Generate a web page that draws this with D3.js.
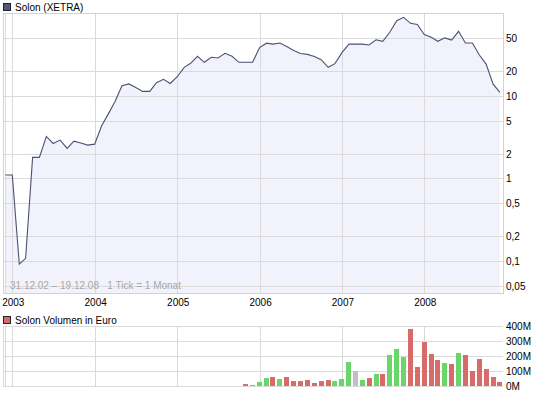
<!DOCTYPE html>
<html>
<head>
<meta charset="utf-8">
<script src="https://cdn.jsdelivr.net/npm/d3@7"></script>
<style>
  body { margin: 0; background: #fff; }
  text { font-family: "Liberation Sans", Arial, sans-serif; font-size: 10px; }
</style>
</head>
<body>
<div id="chart"></div>
<script>
// monthly closing prices, Dec 2002 - Dec 2008 (EUR)
const priceStart = new Date(2002, 11, 1);
const prices = [
  1.1,
  1.1, 0.092, 0.108, 1.8, 1.8, 3.22, 2.65, 2.91, 2.31, 2.83, 2.68, 2.53,
  2.6, 4.33, 6.0, 8.6, 13.2, 13.9, 12.6, 11.3, 11.3, 14.4, 15.8, 14.1,
  17.0, 22.1, 24.7, 30.0, 25.4, 29.2, 28.6, 32.6, 30.0, 25.4, 25.4, 25.4,
  38.3, 43.3, 42.2, 43.5, 39.4, 35.3, 32.4, 31.7, 29.8, 27.3, 22.1, 24.5,
  33.3, 42.2, 42.2, 42.2, 41.1, 47.6, 45.6, 58.6, 80.9, 88.9, 75.2, 72.8,
  55.1, 50.9, 45.6, 50.2, 47.2, 60.2, 43.5, 43.5, 31.1, 24.2, 13.8, 11.0
];

// monthly volume in million EUR, Nov 2005 - Dec 2008
const volumeStart = new Date(2005, 10, 1);
const volumes = [
  13, 7,
  27, 53, 60, 47, 60, 33, 33, 40, 20, 33, 40, 33,
  47, 160, 100, 40, 53, 80, 80, 207, 247, 193, 380, 127,
  293, 213, 173, 153, 147, 220, 207, 100, 180, 113, 60, 27
];
// u = up month, d = down month, n = unchanged
const volumeTrend = [
  'd', 'u',
  'u', 'u', 'd', 'u', 'd', 'd', 'd', 'd', 'd', 'd', 'd', 'u',
  'u', 'u', 'n', 'u', 'd', 'u', 'd', 'u', 'u', 'u', 'd', 'd',
  'd', 'd', 'd', 'u', 'd', 'u', 'd', 'd', 'd', 'd', 'd', 'd'
];

const years = [2003, 2004, 2005, 2006, 2007, 2008];
const priceTicks = [50, 20, 10, 5, 2, 1, 0.5, 0.2, 0.1, 0.05];
const volumeTicks = [400, 300, 200, 100, 0];

const priceData = prices.map((v, i) => ({ date: d3.timeMonth.offset(priceStart, i), value: v }));
const volumeData = volumes.map((v, i) => ({ date: d3.timeMonth.offset(volumeStart, i), value: v, trend: volumeTrend[i] }));

const width = 545;
const height = 395;
const left = 3, right = 503;
const top1 = 13, bottom1 = 293;
const top2 = 326, bottom2 = 386;
const gridColour = '#dadada';
const trendColour = { u: '#6ad66a', d: '#d96a6a', n: '#c0c0c0' };

const fmt = d3.formatLocale({ decimal: ',', thousands: '.', grouping: [3], currency: ['', '€'] }).format('~g');

const xScale = d3.scaleTime()
    .domain([new Date(2003, 0, 1), new Date(2008, 0, 1)])
    .range([12.3, 424.3]);

const yScale = d3.scaleLog()
    .domain([0.05, 50])
    .range([286, 38]);

const vScale = d3.scaleLinear()
    .domain([0, 400])
    .range([bottom2, top2]);

const svg = d3.select('#chart')
    .append('svg')
    .attr('width', width)
    .attr('height', height);

const crisp = (v) => Math.round(v) + 0.5;

// ---- price panel ----
const p = svg.append('g');

p.append('rect')
    .attr('x', left).attr('y', top1)
    .attr('width', right - left).attr('height', bottom1 - top1)
    .attr('fill', '#fff');

const area = d3.area()
    .x(d => xScale(d.date))
    .y0(bottom1)
    .y1(d => yScale(d.value));

p.append('path')
    .datum(priceData)
    .attr('d', area)
    .attr('fill', '#f2f2fc');

// grid
p.selectAll('.hgrid')
    .data(priceTicks)
    .enter()
    .append('line')
    .attr('x1', left).attr('x2', right)
    .attr('y1', d => crisp(yScale(d))).attr('y2', d => crisp(yScale(d)))
    .attr('stroke', gridColour);

const vLines = [priceStart].concat(years.map(y => new Date(y, 0, 1)));
p.selectAll('.vgrid')
    .data(vLines)
    .enter()
    .append('line')
    .attr('x1', d => crisp(xScale(d))).attr('x2', d => crisp(xScale(d)))
    .attr('y1', top1).attr('y2', bottom1)
    .attr('stroke', gridColour);

p.append('rect')
    .attr('x', left + 0.5).attr('y', top1 + 0.5)
    .attr('width', right - left).attr('height', bottom1 - top1)
    .attr('fill', 'none')
    .attr('stroke', '#d2d2d2');

const line = d3.line()
    .x(d => xScale(d.date))
    .y(d => yScale(d.value));

p.append('path')
    .datum(priceData)
    .attr('d', line)
    .attr('fill', 'none')
    .attr('stroke', '#4b5272')
    .attr('stroke-width', 1.1);

// y labels
p.selectAll('.ylab')
    .data(priceTicks)
    .enter()
    .append('text')
    .attr('x', 506)
    .attr('y', d => yScale(d) + 4)
    .text(d => fmt(d));

// date range note
p.append('text')
    .attr('x', 10).attr('y', 289)
    .attr('fill', '#a8a8a8')
    .text('31.12.02 \u2013 19.12.08   1 Tick = 1 Monat')
    .style('white-space', 'pre');

// legend
svg.append('rect')
    .attr('x', 3.5).attr('y', 3.5).attr('width', 7).attr('height', 7)
    .attr('fill', '#50587a').attr('stroke', '#222');
svg.append('text')
    .attr('x', 15).attr('y', 11)
    .text('Solon (XETRA)');

// x labels
svg.selectAll('.xlab')
    .data(years)
    .enter()
    .append('text')
    .attr('x', d => xScale(new Date(d, 0, 1)) + 1)
    .attr('y', 306)
    .attr('text-anchor', 'middle')
    .text(d => d);

// ---- volume panel ----
svg.append('rect')
    .attr('x', 3.5).attr('y', 316.5).attr('width', 7).attr('height', 7)
    .attr('fill', '#d96a6a').attr('stroke', '#222');
svg.append('text')
    .attr('x', 15).attr('y', 324)
    .text('Solon Volumen in Euro');

const v = svg.append('g');

v.selectAll('.hgrid')
    .data(volumeTicks)
    .enter()
    .append('line')
    .attr('x1', left).attr('x2', right)
    .attr('y1', d => crisp(vScale(d))).attr('y2', d => crisp(vScale(d)))
    .attr('stroke', gridColour);

v.selectAll('.vgrid')
    .data([new Date(2002, 10, 20)].concat(vLines))
    .enter()
    .append('line')
    .attr('x1', d => crisp(Math.max(left, xScale(d)))).attr('x2', d => crisp(Math.max(left, xScale(d))))
    .attr('y1', top2).attr('y2', bottom2)
    .attr('stroke', gridColour);

v.selectAll('rect.bar')
    .data(volumeData)
    .enter()
    .append('rect')
    .attr('class', 'bar')
    .attr('x', d => Math.round(xScale(d.date) - 2.5))
    .attr('y', d => vScale(d.value))
    .attr('width', 5)
    .attr('height', d => bottom2 - vScale(d.value))
    .attr('fill', d => trendColour[d.trend]);

v.selectAll('.vlab')
    .data(volumeTicks)
    .enter()
    .append('text')
    .attr('x', 506)
    .attr('y', d => vScale(d) + 4)
    .text(d => d + 'M');
</script>
</body>
</html>
